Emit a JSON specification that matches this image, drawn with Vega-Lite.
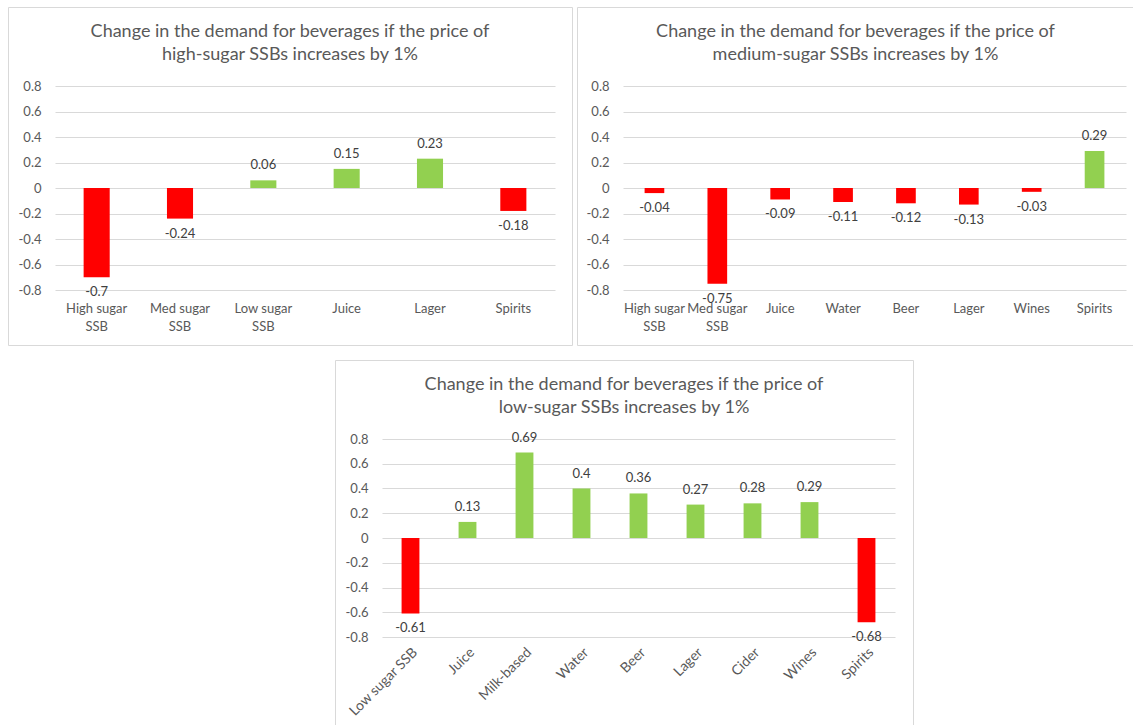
{
  "$schema": "https://vega.github.io/schema/vega-lite/v6.json",
  "padding": {"left": 7, "top": 6, "right": 0, "bottom": 0},
  "background": "white",
  "spacing": 13,
  "config": {
    "font": "Lato",
    "view": {"stroke": "#d9d9d9", "strokeWidth": 1},
    "title": {"fontSize": 18, "fontWeight": "normal", "color": "#595959", "lineHeight": 23, "anchor": "middle", "offset": -57},
    "axis": {"labelFontSize": 13, "labelColor": "#595959", "domain": false, "ticks": false, "title": null},
    "text": {"fontSize": 13, "color": "#404040"}
  },
  "vconcat": [
    {
      "hconcat": [
        {
          "width": 564,
          "height": 338,
          "title": {"text": ["Change in the demand for beverages if the price of", "high-sugar SSBs increases by 1%"]},
          "data": {"values": [
            {"beverage": "High sugar SSB", "change": -0.7},
            {"beverage": "Med sugar SSB", "change": -0.24},
            {"beverage": "Low sugar SSB", "change": 0.06},
            {"beverage": "Juice", "change": 0.15},
            {"beverage": "Lager", "change": 0.23},
            {"beverage": "Spirits", "change": -0.18}
          ]},
          "encoding": {
            "x": {"field": "beverage", "type": "nominal", "sort": null,
              "scale": {"range": [47, 547], "paddingInner": 0, "paddingOuter": 0},
              "axis": {"orient": "bottom", "offset": -55, "labelAngle": 0, "labelPadding": 12, "labelLineHeight": 18, "grid": false,
                "labelExpr": "indexof(datum.label, ' SSB') > 0 ? [replace(datum.label, ' SSB', ''), 'SSB'] : datum.label"}},
            "y": {"field": "change", "type": "quantitative",
              "scale": {"domain": [-0.8, 0.8], "range": [283, 79], "nice": false, "zero": false},
              "axis": {"values": [-0.8, -0.6, -0.4, -0.2, 0, 0.2, 0.4, 0.6, 0.8], "labelExpr": "'' + datum.value", "grid": true, "gridColor": "#d9d9d9", "offset": -47, "labelPadding": 14}}
          },
          "layer": [
            {"mark": {"type": "bar", "width": {"band": 0.313}},
             "encoding": {"color": {"condition": {"test": "datum.change < 0", "value": "#FF0000"}, "value": "#92D050"}}},
            {"transform": [{"filter": "datum.change >= 0"}],
             "mark": {"type": "text", "baseline": "bottom", "dy": -8},
             "encoding": {"text": {"field": "change", "type": "nominal"}}},
            {"transform": [{"filter": "datum.change < 0"}],
             "mark": {"type": "text", "baseline": "top", "dy": 9},
             "encoding": {"text": {"field": "change", "type": "nominal"}}}
          ]
        },
        {
          "width": 557,
          "height": 338,
          "title": {"text": ["Change in the demand for beverages if the price of", "medium-sugar SSBs increases by 1%"]},
          "data": {"values": [
            {"beverage": "High sugar SSB", "change": -0.04},
            {"beverage": "Med sugar SSB", "change": -0.75},
            {"beverage": "Juice", "change": -0.09},
            {"beverage": "Water", "change": -0.11},
            {"beverage": "Beer", "change": -0.12},
            {"beverage": "Lager", "change": -0.13},
            {"beverage": "Wines", "change": -0.03},
            {"beverage": "Spirits", "change": 0.29}
          ]},
          "encoding": {
            "x": {"field": "beverage", "type": "nominal", "sort": null,
              "scale": {"range": [46, 549], "paddingInner": 0, "paddingOuter": 0},
              "axis": {"orient": "bottom", "offset": -55, "labelAngle": 0, "labelPadding": 12, "labelLineHeight": 18, "grid": false,
                "labelExpr": "indexof(datum.label, ' SSB') > 0 ? [replace(datum.label, ' SSB', ''), 'SSB'] : datum.label"}},
            "y": {"field": "change", "type": "quantitative",
              "scale": {"domain": [-0.8, 0.8], "range": [283, 79], "nice": false, "zero": false},
              "axis": {"values": [-0.8, -0.6, -0.4, -0.2, 0, 0.2, 0.4, 0.6, 0.8], "labelExpr": "'' + datum.value", "grid": true, "gridColor": "#d9d9d9", "offset": -46, "labelPadding": 14}}
          },
          "layer": [
            {"mark": {"type": "bar", "width": {"band": 0.313}},
             "encoding": {"color": {"condition": {"test": "datum.change < 0", "value": "#FF0000"}, "value": "#92D050"}}},
            {"transform": [{"filter": "datum.change >= 0"}],
             "mark": {"type": "text", "baseline": "bottom", "dy": -8},
             "encoding": {"text": {"field": "change", "type": "nominal"}}},
            {"transform": [{"filter": "datum.change < 0"}],
             "mark": {"type": "text", "baseline": "top", "dy": 9},
             "encoding": {"text": {"field": "change", "type": "nominal"}}}
          ]
        }
      ],
      "spacing": 5,
      "bounds": "flush"
    },
    {
      "hconcat": [
        {
          "width": 322,
          "height": 10,
          "data": {"values": []},
          "mark": "point",
          "encoding": {},
          "view": {"stroke": null}
        },
        {
          "width": 578,
          "height": 366,
          "title": {"text": ["Change in the demand for beverages if the price of", "low-sugar SSBs increases by 1%"]},
          "data": {"values": [
            {"beverage": "Low sugar SSB", "change": -0.61},
            {"beverage": "Juice", "change": 0.13},
            {"beverage": "Milk-based", "change": 0.69},
            {"beverage": "Water", "change": 0.4},
            {"beverage": "Beer", "change": 0.36},
            {"beverage": "Lager", "change": 0.27},
            {"beverage": "Cider", "change": 0.28},
            {"beverage": "Wines", "change": 0.29},
            {"beverage": "Spirits", "change": -0.68}
          ]},
          "encoding": {
            "x": {"field": "beverage", "type": "nominal", "sort": null,
              "scale": {"range": [47, 560], "paddingInner": 0, "paddingOuter": 0},
              "axis": {"orient": "bottom", "offset": -89, "labelAngle": -45, "labelPadding": 8, "labelFontSize": 14, "grid": false}},
            "y": {"field": "change", "type": "quantitative",
              "scale": {"domain": [-0.8, 0.8], "range": [277, 79], "nice": false, "zero": false},
              "axis": {"values": [-0.8, -0.6, -0.4, -0.2, 0, 0.2, 0.4, 0.6, 0.8], "labelExpr": "'' + datum.value", "grid": true, "gridColor": "#d9d9d9", "offset": -47, "labelPadding": 14}}
          },
          "layer": [
            {"mark": {"type": "bar", "width": {"band": 0.313}},
             "encoding": {"color": {"condition": {"test": "datum.change < 0", "value": "#FF0000"}, "value": "#92D050"}}},
            {"transform": [{"filter": "datum.change >= 0"}],
             "mark": {"type": "text", "baseline": "bottom", "dy": -8},
             "encoding": {"text": {"field": "change", "type": "nominal"}}},
            {"transform": [{"filter": "datum.change < 0"}],
             "mark": {"type": "text", "baseline": "top", "dy": 9},
             "encoding": {"text": {"field": "change", "type": "nominal"}}}
          ]
        }
      ],
      "spacing": 5,
      "bounds": "flush"
    }
  ]
}
